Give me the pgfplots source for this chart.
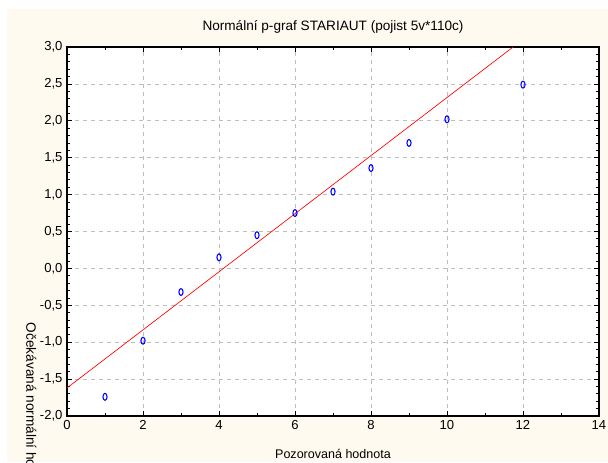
\documentclass[border=0pt]{standalone}
\usepackage{pgfplots}
\pgfplotsset{compat=1.18}
\usepackage{fontspec}
\setmainfont{Liberation Sans}
\definecolor{cream}{RGB}{255,250,240}
\definecolor{gridgray}{RGB}{190,190,190}
\begin{document}
\fontsize{9.6}{11}\selectfont
\begin{tikzpicture}
% page: 608 x 462 px (1px = 0.75pt)
\path[use as bounding box] (0pt,0pt) rectangle (456pt,346.5pt);
\fill[white] (0pt,0pt) rectangle (456pt,346.5pt);
\fill[cream] (5.25pt,0pt) rectangle (456pt,339.75pt);
\begin{axis}[
  at={(50.25pt,34.5pt)}, anchor=south west,
  scale only axis, width=399pt, height=276.75pt,
  xmin=0, xmax=14, ymin=-2, ymax=3,
  axis background/.style={fill=white},
  xtick={0,2,...,14}, ytick={-2,-1.5,...,3},
  minor x tick num=1, minor y tick num=4,
  tick align=inside,
  major tick length=3.5pt, minor tick length=2pt,
  tick style={black, line width=0.6pt},
  axis line style={black, line width=0.8pt},
  grid=major,
  major grid style={gridgray, dashed, line width=0.5pt},
  /pgf/number format/.cd, use comma, fixed, fixed zerofill, precision=1, assume math mode=true,
  /pgfplots/.cd,
  xticklabel={\pgfmathprintnumber[fixed, precision=0]{\tick}},
  yticklabel style={font=\fontsize{9.8}{11}\selectfont},
  xticklabel style={font=\fontsize{9.8}{11}\selectfont},
  title={Normální p-graf STARIAUT (pojist 5v*110c)},
  title style={font=\fontsize{10.2}{12}\selectfont, yshift=1pt},
  xlabel={Pozorovaná hodnota},
  xlabel style={font=\fontsize{9.4}{11}\selectfont, yshift=-8pt},
  clip=true,
]
\addplot[red, line width=0.5pt] coordinates {(0,-1.62) (11.74,3.0)};
\addplot[only marks, blue, mark=o, mark size=2.6pt, mark options={xscale=0.6, yscale=1.0, line width=0.8pt}]
coordinates {
(1,-1.74) (2,-0.98) (3,-0.32) (4,0.15) (5,0.45) (6,0.75)
(7,1.04) (8,1.36) (9,1.70) (10,2.02) (12,2.49)
};
\end{axis}
\node[rotate=-90, anchor=north west, inner sep=0pt, font=\fontsize{10.2}{12}\selectfont] at (27.5pt,104.5pt) {Očekávaná normální hodnota};
\end{tikzpicture}
\end{document}
